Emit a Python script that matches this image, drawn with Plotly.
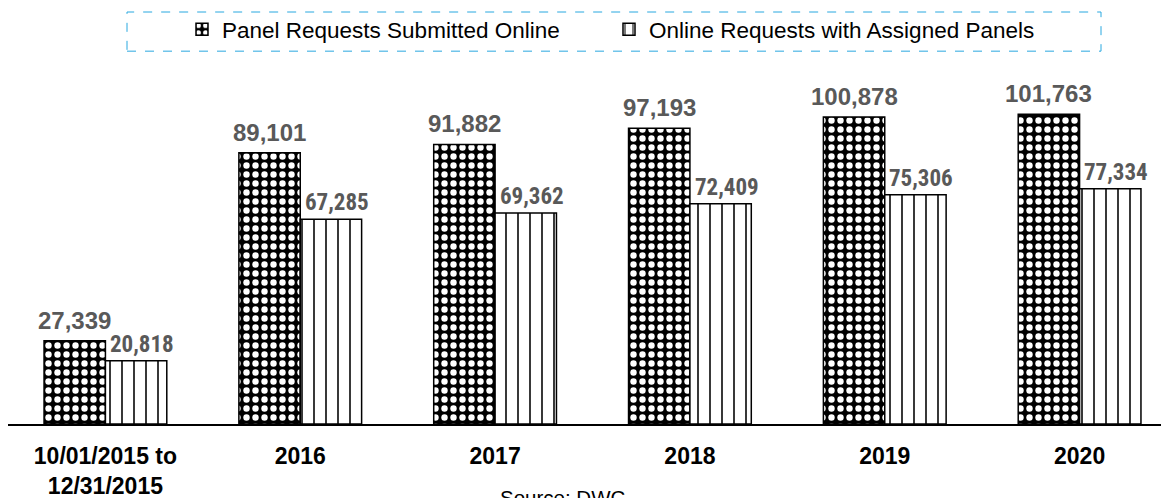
import plotly.graph_objects as go

categories = ["10/01/2015 to<br>12/31/2015", "2016", "2017", "2018", "2019", "2020"]
submitted = [27339, 89101, 91882, 97193, 100878, 101763]
assigned = [20818, 67285, 69362, 72409, 75306, 77334]
series_names = ["Panel Requests Submitted Online", "Online Requests with Assigned Panels"]
source_text = "Source: DWC"

W, H = 1169, 498
ML, MR, MT, MB = 0, 0, 60, 82
BARGAP = 0.37
XRANGE = [-0.5, 5.5]
plot_w = W - ML - MR
plot_h = H - MT - MB
base_y = H - MB  # pixel row of the baseline inside the figure
cat_px = plot_w / (XRANGE[1] - XRANGE[0])
bar_px = cat_px * (1 - BARGAP) / 2

FONT = "Arial, Liberation Sans, sans-serif"
NARROW = "Liberation Sans Narrow, Arial Narrow, Roboto Condensed, Arial, Liberation Sans, sans-serif"
LABEL_COLOR = "#595959"

fig = go.Figure()
fig.add_trace(go.Bar(
    x=categories, y=submitted, name=series_names[0],
    marker=dict(color="black", line=dict(color="black", width=1.5),
                pattern=dict(shape=".", bgcolor="black", fgcolor="white",
                             size=9, solidity=0.4, fillmode="replace")),
))
fig.add_trace(go.Bar(
    x=categories, y=assigned, name=series_names[1],
    marker=dict(color="white", line=dict(color="black", width=1.5),
                pattern=dict(shape="|", bgcolor="white", fgcolor="black",
                             size=12, solidity=0.13, fillmode="replace")),
))

annotations = []
for i, v in enumerate(submitted):
    annotations.append(dict(x=i, y=v, xref="x", yref="y", text=f"{v:,}",
                            showarrow=False, xshift=-bar_px / 2, yshift=5,
                            yanchor="bottom",
                            font=dict(family=FONT, size=24, color=LABEL_COLOR, weight="bold")))
for i, v in enumerate(assigned):
    annotations.append(dict(x=i, y=v, xref="x", yref="y", text=f"{v:,}",
                            showarrow=False, xshift=bar_px / 2 + 6, yshift=1,
                            yanchor="bottom",
                            font=dict(family=NARROW, size=23, color=LABEL_COLOR, weight="bold")))
annotations.append(dict(x=554 / plot_w, y=(base_y - 477) / plot_h,
                        xref="paper", yref="paper", text=source_text, showarrow=False,
                        xanchor="center", yanchor="top",
                        font=dict(family=FONT, size=20.5, color="black")))

fig.add_shape(type="rect", xref="paper", yref="paper",
              x0=119 / plot_w, x1=1093 / plot_w,
              y0=(base_y - 40) / plot_h, y1=(base_y - 0.5) / plot_h,
              line=dict(color="#29a8e0", width=1, dash="dash"), fillcolor="rgba(0,0,0,0)")

fig.update_layout(
    width=W, height=H,
    margin=dict(l=ML, r=MR, t=MT, b=MB, pad=0),
    paper_bgcolor="white", plot_bgcolor="white",
    barmode="group", bargap=BARGAP, bargroupgap=0,
    font=dict(family=FONT, color="black"),
    showlegend=True,
    legend=dict(orientation="h", x=174 / plot_w, xanchor="left",
                y=(base_y - 18) / plot_h, yanchor="middle",
                entrywidth=382, entrywidthmode="pixels",
                font=dict(family=FONT, size=22.5, color="black"),
                bgcolor="rgba(0,0,0,0)", borderwidth=0,
                traceorder="normal"),
    annotations=annotations,
    xaxis=dict(type="category", range=XRANGE, showline=True, linecolor="black", linewidth=2,
               ticks="", showgrid=False, zeroline=False, ticklabelstandoff=10,
               tickfont=dict(family=FONT, size=23, color="black", weight="bold")),
    yaxis=dict(range=[0, 116000], visible=False, showgrid=False, zeroline=False),
)

fig.write_html("out.html")
